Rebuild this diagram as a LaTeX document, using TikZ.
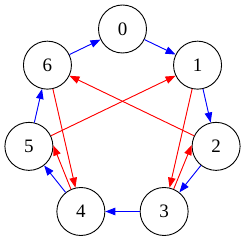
\documentclass[tikz,border=0pt]{standalone}
\usepackage{fontspec}
\setmainfont{Liberation Serif}
\usepackage{xcolor}
\usepackage{tikz}
\usetikzlibrary{arrows.meta,positioning,calc}
\definecolor{ringblue}{RGB}{0,0,255}
\definecolor{cyclered}{RGB}{255,0,0}

\begin{document}
\begin{tikzpicture}[
    x=1pt, y=1pt,
    vertex/.style={circle, draw, line width=0.9pt, minimum size=48pt,
                   inner sep=0pt, font=\fontsize{19}{19}\selectfont},
    ringarrow/.style={-{Triangle[length=10pt,width=7.5pt]}, line width=0.9pt, draw=ringblue, fill=ringblue},
    cyclearrow/.style={-{Triangle[length=10pt,width=7.5pt]}, line width=0.9pt, draw=cyclered, fill=cyclered},
]
\useasboundingbox (0,0) rectangle (246,241);

% Nodes on the heptagon
\begin{scope}[shift={(122.5,116)}]
\node[vertex] (n0) at (90:96) {0};
\node[vertex] (n1) at (38.57:96) {1};
\node[vertex] (n2) at (-12.86:96) {2};
\node[vertex] (n3) at (-64.29:96) {3};
\node[vertex] (n4) at (-115.71:96) {4};
\node[vertex] (n5) at (-167.14:96) {5};
\node[vertex] (n6) at (141.43:96) {6};
\end{scope}

% Blue ring
\draw[ringarrow] (n0) -- (n1);
\draw[ringarrow] (n1) -- (n2);
\draw[ringarrow] (n2) -- (n3);
\draw[ringarrow] (n3) -- (n4);
\draw[ringarrow] (n4) -- (n5);
\draw[ringarrow] (n5) -- (n6);
\draw[ringarrow] (n6) -- (n0);

% Red cycle
\draw[cyclearrow] (n2) -- (n6);
\draw[cyclearrow] (n6) -- (n4);
\draw[cyclearrow] (n4.114) -- (n5.2);
\draw[cyclearrow] (n5) -- (n1);
\draw[cyclearrow] (n1) -- (n3);
\draw[cyclearrow] (n3.67) -- (n2.177);

\end{tikzpicture}
\end{document}
